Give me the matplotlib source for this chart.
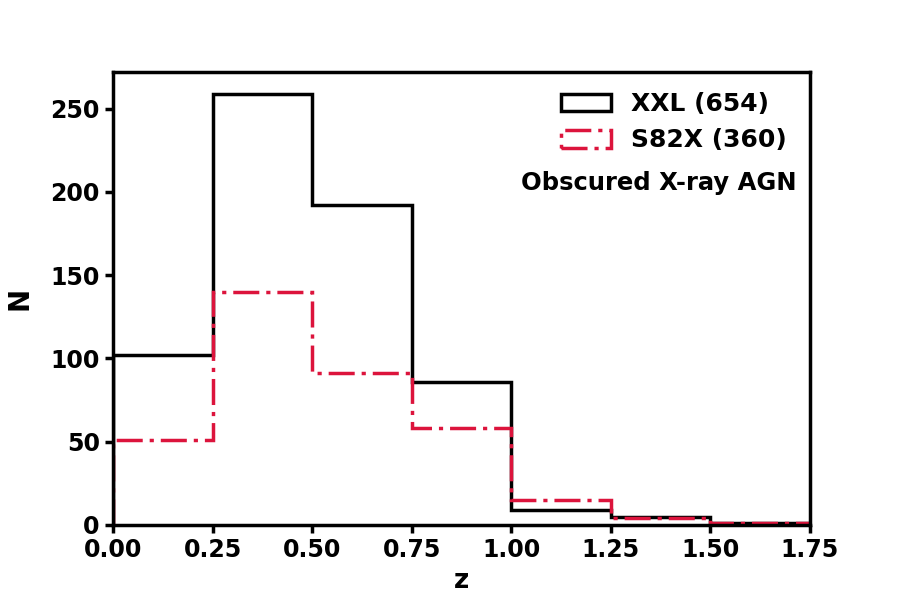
import numpy as np
import matplotlib.pyplot as plt

# redshift bins and counts
bin_edges = [0.0, 0.25, 0.5, 0.75, 1.0, 1.25, 1.5, 1.75]
xxl_counts = [102, 259, 192, 86, 9, 5, 1]
s82x_counts = [51, 140, 91, 58, 15, 4, 1]
xticks = [0.0, 0.25, 0.5, 0.75, 1.0, 1.25, 1.5, 1.75]

plt.rcParams['font.weight'] = 'bold'
plt.rcParams['axes.labelweight'] = 'bold'

fig = plt.figure(figsize=(9, 6), dpi=100)
ax = fig.add_axes([0.1256, 0.125, 0.7744, 0.755])

centers = np.array(bin_edges[:-1]) + 0.125
ax.hist(centers, bins=bin_edges, weights=xxl_counts, histtype='step',
        color='black', lw=2.5, label='XXL (654)')
ax.hist(centers, bins=bin_edges, weights=s82x_counts, histtype='step',
        color='crimson', lw=2.5, ls=(0, (7.5, 2, 1.2, 2)),
        label='S82X (360)')

ax.set_xlim(0, 1.75)
ax.set_xticks(xticks)
ax.set_xticklabels(['%.2f' % t for t in xticks])
ax.set_xlabel('z', fontsize=19, fontweight='bold')
ax.set_ylabel('N', fontsize=20, fontweight='bold', labelpad=12)
ax.tick_params(labelsize=17, width=2.5, length=6)
for s in ax.spines.values():
    s.set_linewidth(2.5)

ax.legend(loc='upper right', frameon=False, fontsize=18, handlelength=2.0,
          handletextpad=0.8, labelspacing=0.5, borderaxespad=0.4,
          bbox_to_anchor=(0.996, 1.0))
ax.text(0.981, 0.755, 'Obscured X-ray AGN', transform=ax.transAxes,
        ha='right', va='center', fontsize=17.5, fontweight='bold')

fig.savefig('out.png', dpi=100)
